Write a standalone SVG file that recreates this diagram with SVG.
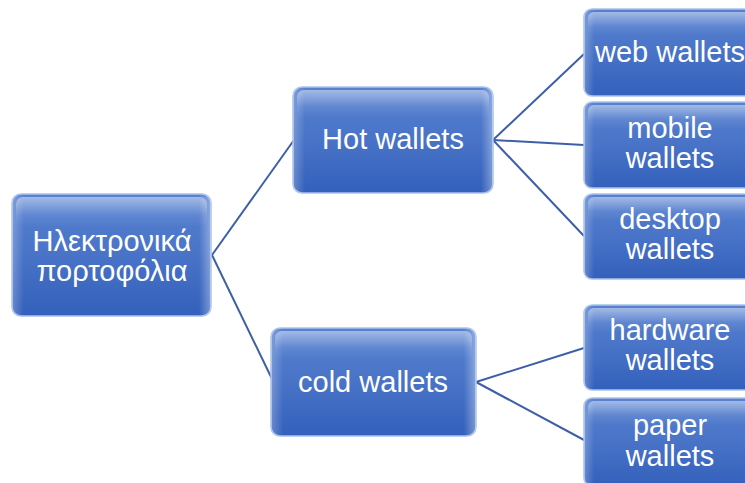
<svg xmlns="http://www.w3.org/2000/svg" width="745" height="483" viewBox="0 0 745 483">
  <defs>
    <linearGradient id="fill" x1="0" y1="0" x2="0" y2="1">
      <stop offset="0" stop-color="#5882d0"/>
      <stop offset="0.5" stop-color="#4873c7"/>
      <stop offset="1" stop-color="#3360bb"/>
    </linearGradient>
    <linearGradient id="gloss" x1="0" y1="0" x2="0" y2="1">
      <stop offset="0" stop-color="#ffffff" stop-opacity="0.45"/>
      <stop offset="0.6" stop-color="#ffffff" stop-opacity="0.08"/>
      <stop offset="1" stop-color="#ffffff" stop-opacity="0"/>
    </linearGradient>
    <linearGradient id="side" x1="0" y1="0" x2="1" y2="0">
      <stop offset="0" stop-color="#ffffff" stop-opacity="0.25"/>
      <stop offset="0.06" stop-color="#ffffff" stop-opacity="0"/>
      <stop offset="0.94" stop-color="#ffffff" stop-opacity="0"/>
      <stop offset="1" stop-color="#ffffff" stop-opacity="0.35"/>
    </linearGradient>
  </defs>
  <style>
    .box { fill: url(#fill); stroke: #a9c2ec; stroke-width: 1.5; }
    .sheen { fill: url(#side); }
    .gloss { fill: url(#gloss); }
    .label { font-family: "Liberation Sans", Arial, sans-serif; font-size: 29px; fill: #ffffff; text-anchor: middle; }
    .link { stroke: #3d5fa8; stroke-width: 2; fill: none; }
  </style>

  <g id="connectors">
    <line class="link" x1="212" y1="255" x2="294" y2="140"/>
    <line class="link" x1="212" y1="255" x2="272" y2="379"/>
    <line class="link" x1="493" y1="140" x2="584" y2="54"/>
    <line class="link" x1="493" y1="140" x2="584" y2="145"/>
    <line class="link" x1="493" y1="140" x2="584" y2="236"/>
    <line class="link" x1="476" y1="382" x2="584" y2="348"/>
    <line class="link" x1="476" y1="382" x2="584" y2="440"/>
  </g>

  <g id="root">
    <rect class="box" x="12" y="194" width="199" height="122" rx="9"/>
    <rect class="sheen" x="12" y="194" width="199" height="122" rx="9"/>
    <rect class="gloss" x="16" y="197" width="191" height="30" rx="7"/>
    <text class="label" x="112" y="251">Ηλεκτρονικά</text>
    <text class="label" x="112" y="281">πορτοφόλια</text>
  </g>

  <g id="hot">
    <rect class="box" x="293" y="87" width="200" height="106" rx="9"/>
    <rect class="sheen" x="293" y="87" width="200" height="106" rx="9"/>
    <rect class="gloss" x="297" y="90" width="192" height="28" rx="7"/>
    <text class="label" x="393" y="149">Hot wallets</text>
  </g>

  <g id="cold">
    <rect class="box" x="271" y="328" width="205" height="108" rx="9"/>
    <rect class="sheen" x="271" y="328" width="205" height="108" rx="9"/>
    <rect class="gloss" x="275" y="331" width="197" height="28" rx="7"/>
    <text class="label" x="373" y="392">cold wallets</text>
  </g>

  <g id="web">
    <rect class="box" x="584" y="9" width="172" height="87" rx="8"/>
    <rect class="sheen" x="584" y="9" width="172" height="87" rx="8"/>
    <rect class="gloss" x="588" y="12" width="164" height="24" rx="6"/>
    <text class="label" x="670" y="62">web wallets</text>
  </g>

  <g id="mobile">
    <rect class="box" x="584" y="102" width="172" height="86" rx="8"/>
    <rect class="sheen" x="584" y="102" width="172" height="86" rx="8"/>
    <rect class="gloss" x="588" y="105" width="164" height="24" rx="6"/>
    <text class="label" x="670" y="138">mobile</text>
    <text class="label" x="670" y="168">wallets</text>
  </g>

  <g id="desktop">
    <rect class="box" x="584" y="194" width="172" height="85" rx="8"/>
    <rect class="sheen" x="584" y="194" width="172" height="85" rx="8"/>
    <rect class="gloss" x="588" y="197" width="164" height="24" rx="6"/>
    <text class="label" x="670" y="229">desktop</text>
    <text class="label" x="670" y="259">wallets</text>
  </g>

  <g id="hardware">
    <rect class="box" x="584" y="305" width="172" height="85" rx="8"/>
    <rect class="sheen" x="584" y="305" width="172" height="85" rx="8"/>
    <rect class="gloss" x="588" y="308" width="164" height="24" rx="6"/>
    <text class="label" x="670" y="340">hardware</text>
    <text class="label" x="670" y="370">wallets</text>
  </g>

  <g id="paper">
    <rect class="box" x="584" y="398" width="172" height="88" rx="8"/>
    <rect class="sheen" x="584" y="398" width="172" height="88" rx="8"/>
    <rect class="gloss" x="588" y="401" width="164" height="24" rx="6"/>
    <text class="label" x="670" y="435">paper</text>
    <text class="label" x="670" y="466">wallets</text>
  </g>
</svg>
